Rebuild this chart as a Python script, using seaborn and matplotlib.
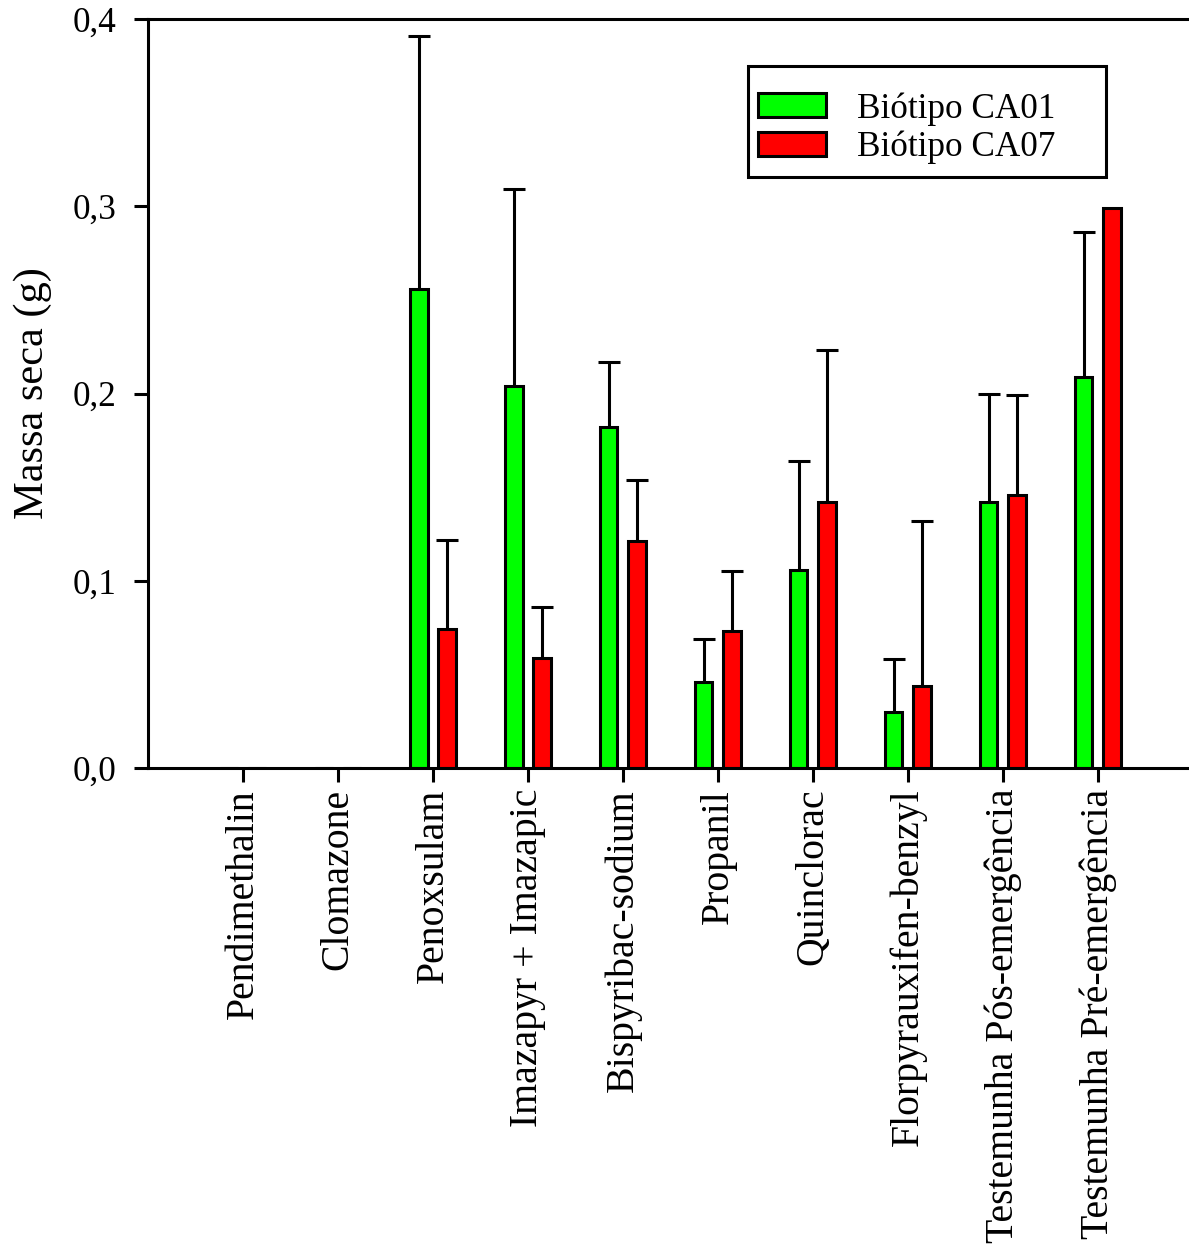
import numpy as np
import pandas as pd
import matplotlib
matplotlib.use("Agg")
import matplotlib.pyplot as plt
from matplotlib.patches import Rectangle
import seaborn as sns

herbicides = ["Pendimethalin", "Clomazone", "Penoxsulam", "Imazapyr + Imazapic",
              "Bispyribac-sodium", "Propanil", "Quinclorac", "Florpyrauxifen-benzyl",
              "Testemunha Pós-emergência", "Testemunha Pré-emergência"]
biotypes = ["Biótipo CA01", "Biótipo CA07"]

mass_ca01 = [0.0, 0.0, 0.256, 0.204, 0.182, 0.046, 0.106, 0.030, 0.142, 0.209]
err_ca01 = [0.0, 0.0, 0.135, 0.105, 0.035, 0.023, 0.058, 0.028, 0.058, 0.077]
mass_ca07 = [0.0, 0.0, 0.074, 0.059, 0.121, 0.073, 0.142, 0.044, 0.146, 0.299]
err_ca07 = [0.0, 0.0, 0.048, 0.027, 0.033, 0.032, 0.081, 0.088, 0.053, 0.0]

df = pd.DataFrame({
    "Herbicida": herbicides * 2,
    "Biótipo": [biotypes[0]] * len(herbicides) + [biotypes[1]] * len(herbicides),
    "Massa": mass_ca01 + mass_ca07,
    "Erro": err_ca01 + err_ca07,
})

sns.set_theme(style="ticks")
plt.rcParams["font.family"] = ["Liberation Serif", "DejaVu Serif"]
plt.rcParams["text.color"] = "black"
plt.rcParams["axes.labelcolor"] = "black"
FS_H = 25.3   # horizontal text (y ticks, legend)
FS_V = 28.6   # rotated category labels
FS_YL = 30.5  # y-axis title

W, H = 1189, 1244
fig = plt.figure(figsize=(W / 100, H / 100), dpi=100)
ax = fig.add_axes([148 / W, 1 - 768 / H, 1 - 148 / W, (768 - 19) / H])

sns.barplot(data=df, x="Herbicida", y="Massa", hue="Biótipo", order=herbicides,
            hue_order=biotypes, palette=["#00ff00", "#ff0000"], width=0.6, gap=0.38,
            errorbar=None, edgecolor="black", linewidth=2.2, saturation=1, ax=ax)

# upper-only error bars centred on each bar
for container, errs in zip(ax.containers, [err_ca01, err_ca07]):
    for patch, e in zip(container.patches, errs):
        if e <= 0:
            continue
        xc = patch.get_x() + patch.get_width() / 2
        h = patch.get_height()
        _, caps, _ = ax.errorbar(xc, h, yerr=[[0], [e]], fmt="none", ecolor="black",
                                 elinewidth=2.2, capsize=8, capthick=2.2, zorder=3)
        for c in caps:
            if np.allclose(c.get_ydata(), h):
                c.set_visible(False)

ax.set_xlim(-1, 9.96)
ax.set_ylim(0, 0.4)
ax.set_yticks([0, 0.1, 0.2, 0.3, 0.4])
ax.set_yticklabels(["0,0", "0,1", "0,2", "0,3", "0,4"], fontsize=FS_H)
ax.set_xticks(range(len(herbicides)))
ax.set_xticklabels(herbicides, rotation=90, fontsize=FS_V, va="top", ha="center")
ax.set_xlabel("")
ax.set_ylabel("Massa seca (g)", fontsize=FS_YL, labelpad=14.5)

for side in ["left", "bottom", "top"]:
    ax.spines[side].set_visible(True)
    ax.spines[side].set_color("black")
    ax.spines[side].set_linewidth(2.2)
ax.spines["right"].set_visible(False)
ax.tick_params(axis="both", direction="out", length=10, width=2.2, colors="black")
ax.tick_params(axis="x", pad=5)
ax.tick_params(axis="y", pad=13)


def ax_xy(px, py):
    return (px - 148) / (W - 148), (768 - py) / (768 - 19)


leg = ax.legend(loc="upper left", bbox_to_anchor=ax_xy(758, 92), frameon=False,
                fontsize=FS_H, handlelength=1.94, handleheight=0.68, handletextpad=0.88,
                borderpad=0, labelspacing=0.14, borderaxespad=0)
for hdl in leg.legend_handles:
    hdl.set_edgecolor("black")
    hdl.set_linewidth(2.2)

x0, y0 = ax_xy(748, 177)
x1, y1 = ax_xy(1106, 66)
ax.add_patch(Rectangle((x0, y0), x1 - x0, y1 - y0, transform=ax.transAxes,
                       facecolor="none", edgecolor="black", linewidth=2.2,
                       zorder=5, clip_on=False))

fig.savefig("out.png", dpi=100, facecolor="white")
